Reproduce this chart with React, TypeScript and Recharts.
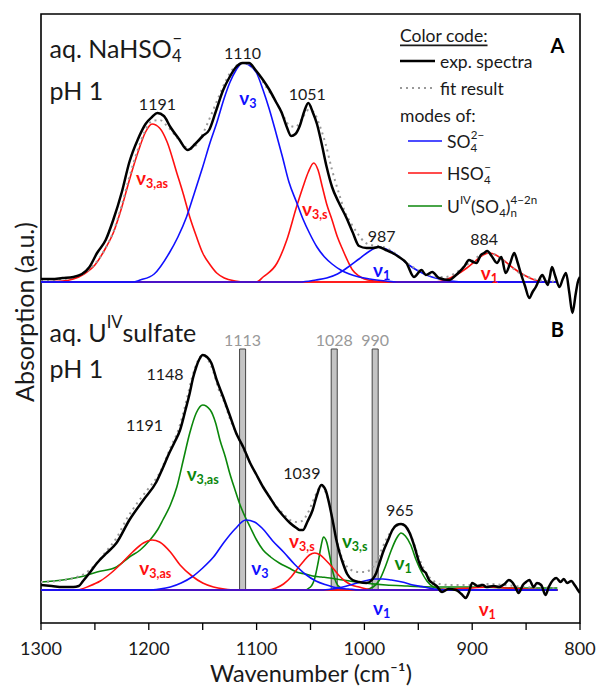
import React from 'react';
import { ComposedChart, Line, XAxis, YAxis, ReferenceArea, ReferenceDot } from 'recharts';

const FONT = 'Lato, "Noto Sans", sans-serif';
const BLUE = '#1010ff';
const RED = '#ff1010';
const GREEN = '#0b870b';
const INK = '#1a1a1a';

const xTicks = [1300, 1250, 1200, 1150, 1100, 1050, 1000, 950, 900, 850, 800];
const yDomain = [-33, 576];
const offsetA = 308; // lifts panel A above panel B

// ---- panel A: aq. NaHSO4-, pH 1  ([wavenumber, absorbance])
const expA = [
  [1300, 3], [1290, 3], [1280, 4], [1270, 5], [1262, 8], [1255, 15], [1248, 29], [1240, 42], [1233, 62],
  [1225, 90], [1218, 120], [1210, 143], [1203, 158], [1197, 165], [1192, 169], [1186, 166], [1180, 155],
  [1172, 143], [1164, 132], [1157, 138], [1150, 146], [1144, 152], [1138, 170], [1131, 192], [1125, 205],
  [1119, 215], [1113, 219], [1107, 219], [1101, 212], [1094, 202], [1088, 192], [1082, 180], [1077, 170],
  [1072, 155], [1068, 146], [1064, 148], [1060, 156], [1056, 170], [1052, 179], [1048, 170], [1044, 158],
  [1040, 140], [1035, 115], [1030, 95], [1024, 80], [1017, 65], [1011, 50], [1005, 36], [998, 34], [992, 34],
  [987, 35], [980, 32], [974, 29], [968, 25], [961, 19], [954, 5], [947, 12], [943, 7], [937, 10], [931, 4],
  [921, 2], [916, 6], [912, 10], [907, 16], [903, 22], [899, 20], [896, 19], [892, 27], [889, 29], [886, 31],
  [882, 26], [877, 19], [873, 25], [869, 9], [865, 18], [861, 29], [858, 20], [855, 9], [851, -4], [847, -16],
  [844, -10], [841, -5], [838, 2], [835, 7], [832, 1], [830, -3], [828, 5], [826, 15], [823, 6], [819, -5],
  [816, 3], [813, 9], [810, -10], [807, -31], [804, -12], [802, 0], [800, 5],
];
const fitA = [
  [1300, 2], [1280, 3], [1270, 5], [1260, 9], [1250, 18], [1240, 34], [1233, 50], [1225, 77], [1218, 105],
  [1210, 133], [1203, 152], [1197, 161], [1190, 162], [1183, 156], [1175, 146], [1168, 137], [1162, 133],
  [1156, 137], [1150, 148], [1143, 165], [1136, 183], [1130, 198], [1124, 210], [1118, 217], [1112, 219],
  [1106, 217], [1100, 210], [1094, 200], [1088, 190], [1082, 180], [1076, 168], [1070, 157], [1064, 155],
  [1058, 163], [1052, 172], [1047, 170], [1042, 158], [1036, 138], [1030, 112], [1024, 90], [1018, 70],
  [1012, 58], [1006, 48], [1000, 40], [994, 37], [987, 36], [980, 34], [972, 29], [964, 22], [955, 15],
  [947, 10], [940, 7], [932, 5], [925, 5], [917, 8], [908, 15], [900, 21], [892, 27], [886, 29], [880, 28],
  [872, 22], [864, 15], [856, 9], [848, 5], [840, 2], [830, 1], [821, 0],
];
const aHso4V3as = [
  [1300, 0], [1280, 1], [1270, 3], [1260, 8], [1250, 17], [1240, 34], [1233, 49], [1225, 75], [1218, 102],
  [1210, 130], [1203, 150], [1197, 158], [1190, 154], [1183, 140], [1174, 109], [1168, 88], [1162, 65],
  [1156, 46], [1150, 29], [1143, 17], [1137, 9], [1130, 4], [1120, 1], [1110, 0], [821, 0],
];
const aSo4V3 = [
  [1300, 0], [1215, 0], [1208, 2], [1195, 8], [1181, 29], [1173, 45], [1165, 65], [1158, 88], [1150, 115],
  [1143, 140], [1137, 159], [1130, 184], [1125, 199], [1119, 212], [1113, 219], [1107, 217], [1100, 209],
  [1094, 192], [1088, 172], [1082, 149], [1076, 125], [1070, 100], [1063, 80], [1057, 63], [1051, 49],
  [1044, 35], [1037, 25], [1030, 18], [1022, 12], [1014, 8], [1005, 5], [995, 3], [980, 1], [970, 0], [821, 0],
];
const aHso4V3s = [
  [1300, 0], [1100, 0], [1094, 5], [1081, 19], [1072, 42], [1063, 75], [1057, 95], [1052, 110], [1047, 119],
  [1043, 112], [1039, 95], [1035, 78], [1030, 62], [1025, 45], [1020, 32], [1015, 20], [1011, 12], [1005, 6],
  [1000, 3], [990, 1], [980, 0], [821, 0],
];
const aSo4V1 = [
  [1300, 0], [1060, 0], [1045, 2], [1035, 4], [1025, 8], [1015, 15], [1005, 23], [995, 31], [987, 35],
  [980, 33], [970, 27], [960, 18], [950, 11], [940, 6], [930, 3], [920, 1], [905, 0], [821, 0],
];
const aHso4V1 = [
  [1300, 0], [935, 0], [925, 2], [915, 7], [905, 14], [897, 21], [890, 27], [884, 29], [878, 27], [870, 21],
  [862, 14], [852, 7], [842, 2], [832, 0], [821, 0],
];

// ---- panel B: aq. U(IV) sulfate, pH 1
const expB = [
  [1300, 5], [1290, 4], [1280, 3], [1270, 3], [1265, 4], [1261, 9], [1255, 17], [1248, 27], [1240, 36],
  [1230, 47], [1218, 70], [1205, 90], [1193, 108], [1187, 122], [1181, 137], [1176, 148], [1171, 160],
  [1166, 180], [1162, 197], [1159, 212], [1156, 223], [1153, 231], [1150, 235], [1146, 233], [1142, 227],
  [1137, 210], [1131, 193], [1125, 175], [1119, 157], [1112, 142], [1106, 127], [1100, 115], [1094, 103],
  [1088, 93], [1082, 83], [1076, 75], [1069, 67], [1063, 62], [1060, 60], [1057, 60], [1053, 68], [1048, 80],
  [1044, 95], [1040, 105], [1036, 100], [1032, 83], [1029, 67], [1026, 50], [1023, 37], [1020, 27], [1016, 16],
  [1011, 10], [1005, 8], [998, 7], [993, 10], [989, 17], [986, 27], [983, 37], [978, 50], [974, 60], [970, 65],
  [966, 66], [962, 64], [958, 57], [954, 45], [949, 27], [946, 20], [943, 17], [940, 10], [937, 7], [933, 4],
  [928, -2], [922, 1], [915, 0], [910, -4], [906, -8], [903, -2], [900, 7], [895, 4], [890, 5], [887, 3],
  [880, 4], [875, 3], [870, 6], [866, 10], [863, 8], [860, 3], [857, -3], [853, 5], [850, 8], [847, 10],
  [843, 3], [840, 7], [836, 5], [832, -5], [829, 3], [825, 10], [822, 12], [818, 8], [815, 11], [812, 7],
  [808, 9], [805, 5], [802, 0], [800, -3],
];
const fitB = [
  [1300, 8], [1285, 9], [1270, 12], [1260, 16], [1250, 25], [1240, 38], [1230, 52], [1220, 72], [1210, 88],
  [1200, 102], [1190, 117], [1180, 142], [1172, 162], [1165, 190], [1160, 212], [1155, 228], [1150, 235],
  [1145, 230], [1140, 218], [1135, 200], [1130, 188], [1125, 172], [1119, 157], [1112, 140], [1106, 127],
  [1100, 115], [1094, 103], [1088, 93], [1082, 84], [1075, 76], [1069, 70], [1063, 68], [1058, 69], [1053, 76],
  [1048, 88], [1044, 98], [1040, 104], [1036, 98], [1032, 84], [1028, 62], [1024, 43], [1020, 30], [1015, 22],
  [1010, 19], [1005, 18], [1000, 18], [995, 20], [990, 26], [985, 38], [980, 50], [975, 59], [970, 64],
  [966, 66], [962, 63], [957, 55], [952, 40], [947, 26], [942, 16], [937, 10], [930, 6], [920, 5], [900, 5],
  [885, 6], [870, 5], [850, 3], [821, 2],
];
const bUV3as = [
  [1300, 8], [1280, 10], [1260, 14], [1248, 18], [1230, 23], [1218, 33], [1208, 40], [1199, 50], [1192, 60],
  [1187, 70], [1180, 85], [1174, 103], [1168, 130], [1162, 157], [1156, 177], [1150, 185], [1143, 180],
  [1138, 167], [1134, 150], [1129, 133], [1125, 117], [1120, 100], [1116, 87], [1111, 74], [1106, 63],
  [1100, 50], [1094, 40], [1087, 33], [1079, 27], [1070, 22], [1063, 18], [1055, 16], [1048, 14], [1040, 13],
  [1032, 12], [1020, 10], [1000, 7], [980, 5], [960, 4], [937, 3], [900, 3], [860, 2], [821, 2],
];
const bHso4V3as = [
  [1300, 0], [1267, 0], [1255, 4], [1245, 9], [1235, 17], [1225, 27], [1215, 38], [1205, 47], [1197, 50],
  [1190, 48], [1180, 38], [1171, 25], [1160, 14], [1150, 7], [1140, 3], [1130, 1], [1120, 0], [821, 0],
];
const bSo4V3 = [
  [1300, 0], [1200, 0], [1190, 1], [1180, 3], [1170, 7], [1160, 13], [1150, 22], [1140, 33], [1130, 48],
  [1120, 61], [1110, 70], [1102, 68], [1095, 62], [1085, 49], [1075, 38], [1065, 26], [1055, 16], [1045, 9],
  [1035, 5], [1025, 2], [1015, 1], [1005, 0], [821, 0],
];
const bHso4V3s = [
  [1300, 0], [1090, 0], [1082, 2], [1075, 6], [1068, 13], [1063, 20], [1057, 28], [1051, 35], [1046, 37],
  [1041, 35], [1036, 30], [1030, 23], [1024, 15], [1018, 9], [1012, 5], [1005, 3], [998, 1], [990, 0], [821, 0],
];
const bUV3s = [
  [1300, 0], [1056, 0], [1050, 3], [1046, 12], [1043, 27], [1040, 45], [1038, 53], [1035, 48], [1032, 33],
  [1029, 17], [1026, 7], [1022, 2], [1016, 0], [821, 0],
];
const bUV1 = [
  [1300, 0], [1000, 0], [992, 3], [986, 10], [980, 25], [975, 40], [970, 52], [966, 57], [962, 54], [957, 45],
  [952, 30], [947, 18], [942, 9], [936, 3], [928, 1], [920, 0], [821, 0],
];
const bSo4V1 = [
  [1300, 0], [1040, 0], [1030, 1], [1020, 3], [1010, 6], [1000, 9], [990, 11], [983, 11], [975, 10], [965, 8],
  [955, 5], [945, 3], [935, 1], [925, 0], [821, 0],
];
const bHso4V1 = [
  [1300, 0], [940, 0], [920, 1], [900, 2], [885, 3], [870, 2], [850, 1], [830, 0], [821, 0],
];

// reference band positions (cm-1) and their height
const bandPositions = [1113, 1028, 990];
const bandTop = 241;

type Part = string | { sub?: string; sup?: string };

function Rich({ x, y, parts, size, color, weight = 400, anchor = 'middle' }: any) {
  const small = size * 0.66;
  let shift = 0;
  const out: any[] = [];
  (parts as Part[]).forEach((p, i) => {
    if (typeof p === 'string') {
      out.push(<tspan key={i} dy={-shift} fontSize={size}>{p}</tspan>);
      shift = 0;
    } else {
      if (p.sub) {
        const target = size * 0.32;
        out.push(<tspan key={i + 'b'} dy={target - shift} fontSize={small}>{p.sub}</tspan>);
        shift = target;
      }
      if (p.sup) {
        const target = -size * 0.42;
        const back = p.sub ? -p.sub.length * small * 0.55 : 0;
        out.push(<tspan key={i + 'p'} dx={back} dy={target - shift} fontSize={small}>{p.sup}</tspan>);
        shift = target;
      }
    }
  });
  return (
    <text x={x} y={y} fill={color} fontWeight={weight} textAnchor={anchor} dominantBaseline="central"
      fontFamily={FONT} fontSize={size}>
      {out}
    </text>
  );
}

const nu = (s: string): Part[] => ['ν', { sub: s }];

// annotations: [wavenumber, height above panel baseline, text parts, colour, size, bold, anchor]
const notesA: any[] = [
  [1192, 179, ['1191'], INK, 16],
  [1113, 230, ['1110'], INK, 16],
  [1053, 189, ['1051'], INK, 16],
  [984, 47, ['987'], INK, 16],
  [889, 44, ['884'], INK, 16],
  [1197, 105, nu('3,as'), RED, 19, true],
  [1108, 185, nu('3'), BLUE, 19, true],
  [1046, 74, nu('3,s'), RED, 19, true],
  [984, 13, nu('1'), BLUE, 19, true],
  [884, 10, nu('1'), RED, 19, true],
  [1292, 234, ['aq. NaHSO', { sub: '4', sup: '−' }], INK, 25, false, 'start'],
  [1292, 192, ['pH 1'], INK, 25, false, 'start'],
  [821, 237, ['A'], '#000', 20, true],
];
const notesB: any[] = [
  [1292, 258, ['aq. U', { sup: 'IV' }, 'sulfate'], INK, 25, false, 'start'],
  [1292, 222, ['pH 1'], INK, 25, false, 'start'],
  [821, 261, ['B'], '#000', 20, true],
  [1185, 217, ['1148'], INK, 16],
  [1204, 166, ['1191'], INK, 16],
  [1058, 118, ['1039'], INK, 16],
  [967, 81, ['965'], INK, 16],
  [1150, 117, nu('3,as'), GREEN, 19, true],
  [1194, 23, nu('3,as'), RED, 19, true],
  [1097, 23, nu('3'), BLUE, 19, true],
  [1058, 50, nu('3,s'), RED, 19, true],
  [1009, 50, nu('3,s'), GREEN, 19, true],
  [964, 28, nu('1'), GREEN, 19, true],
  [984, -17, nu('1'), BLUE, 19, true],
  [886, -18, nu('1'), RED, 19, true],
];

const rows = (pts: number[][], off = 0) => pts.map(([w, a]) => ({ w, y: a + off }));

const components = [
  { pts: aHso4V3as, off: offsetA, color: RED },
  { pts: aHso4V3s, off: offsetA, color: RED },
  { pts: aHso4V1, off: offsetA, color: RED },
  { pts: aSo4V3, off: offsetA, color: BLUE },
  { pts: aSo4V1, off: offsetA, color: BLUE },
  { pts: bUV3as, off: 0, color: GREEN },
  { pts: bUV3s, off: 0, color: GREEN },
  { pts: bUV1, off: 0, color: GREEN },
  { pts: bHso4V3as, off: 0, color: RED },
  { pts: bHso4V3s, off: 0, color: RED },
  { pts: bHso4V1, off: 0, color: RED },
  { pts: bSo4V3, off: 0, color: BLUE },
  { pts: bSo4V1, off: 0, color: BLUE },
];

function Overlay() {
  const t = { fontFamily: FONT, fontSize: 17.5, fill: INK, dominantBaseline: 'central' } as any;
  return (
    <svg width={598} height={689} style={{ position: 'absolute', left: 0, top: 0, pointerEvents: 'none' }}>
      <text {...t} x={400} y={35} textDecoration="underline">Color code:</text>
      <line x1={400} x2={435} y1={61} y2={61} stroke="#000" strokeWidth={2.5} />
      <text {...t} x={440} y={61}>exp. spectra</text>
      <line x1={400} x2={435} y1={88} y2={88} stroke="#999" strokeWidth={2} strokeDasharray="2 4" />
      <text {...t} x={440} y={88}>fit result</text>
      <text {...t} x={400} y={115}>modes of:</text>
      <line x1={408} x2={442} y1={141} y2={141} stroke={BLUE} strokeWidth={1.6} />
      <Rich x={447} y={141} parts={['SO', { sub: '4', sup: '2−' }]} size={17.5} color={INK} anchor="start" />
      <line x1={408} x2={442} y1={173} y2={173} stroke={RED} strokeWidth={1.6} />
      <Rich x={447} y={173} parts={['HSO', { sub: '4', sup: '−' }]} size={17.5} color={INK} anchor="start" />
      <line x1={408} x2={442} y1={206} y2={206} stroke={GREEN} strokeWidth={1.6} />
      <Rich x={447} y={206} parts={['U', { sup: 'IV' }, '(SO', { sub: '4' }, ')', { sub: 'n', sup: '4−2n' }]}
        size={17.5} color={INK} anchor="start" />
      <text x={24} y={312} transform="rotate(-90 24 312)" textAnchor="middle" dominantBaseline="central"
        fontFamily={FONT} fontSize={25} fill={INK}>Absorption (a.u.)</text>
      <text x={311} y={673} textAnchor="middle" dominantBaseline="central" fontFamily={FONT} fontSize={23.5}
        fill={INK}>Wavenumber (cm⁻¹)</text>
    </svg>
  );
}

const noteDot = (n: any[], off: number, key: string) => (
  <ReferenceDot key={key} x={n[0]} y={n[1] + off} r={0} ifOverflow="visible"
    shape={(p: any) => (
      <Rich x={p.cx} y={p.cy} parts={n[2]} color={n[3]} size={n[4]} weight={n[5] ? 700 : 400}
        anchor={n[6] || 'middle'} />
    )} />
);

export default function App() {
  return (
    <div style={{ position: 'absolute', left: 0, top: 0, width: 598, height: 689, background: '#fff', fontFamily: FONT }}>
      <ComposedChart width={598} height={689} margin={{ top: 14, right: 18, bottom: 0, left: 41 }}>
        <XAxis dataKey="w" type="number" domain={[800, 1300]} reversed ticks={xTicks} allowDataOverflow
          height={66} axisLine={false} tickSize={7} tickMargin={12} interval={0}
          tickLine={{ stroke: '#000', strokeWidth: 1.3 }}
          tick={{ fill: INK, fontSize: 18, fontFamily: FONT }}
          tickFormatter={(v: number) => (v % 100 === 0 ? String(v) : '')} />
        <YAxis hide type="number" domain={yDomain} allowDataOverflow />
        {bandPositions.map((b) => (
          <ReferenceArea key={'band' + b} x1={b + 2.8} x2={b - 2.8} y1={0} y2={bandTop}
            fill="#c4c4c4" fillOpacity={1} stroke="#444" strokeWidth={1} />
        ))}
        {components.map((c, i) => (
          <Line key={'c' + i} data={rows(c.pts, c.off)} dataKey="y" type="monotone" stroke={c.color}
            strokeWidth={1.6} dot={false} activeDot={false} isAnimationActive={false} />
        ))}
        <Line data={rows(fitA, offsetA)} dataKey="y" type="monotone" stroke="#9a9a9a" strokeWidth={2}
          strokeDasharray="2 4" dot={false} activeDot={false} isAnimationActive={false} />
        <Line data={rows(fitB)} dataKey="y" type="monotone" stroke="#9a9a9a" strokeWidth={2}
          strokeDasharray="2 4" dot={false} activeDot={false} isAnimationActive={false} />
        <Line data={rows(expA, offsetA)} dataKey="y" type="monotone" stroke="#000" strokeWidth={2.5}
          dot={false} activeDot={false} isAnimationActive={false} />
        <Line data={rows(expB)} dataKey="y" type="monotone" stroke="#000" strokeWidth={2.5}
          dot={false} activeDot={false} isAnimationActive={false} />
        <ReferenceArea x1={1300} x2={800} y1={yDomain[0]} y2={yDomain[1]} fill="none" stroke="#000"
          strokeWidth={1.6} ifOverflow="visible" />
        {bandPositions.map((b) => noteDot([b, bandTop + 10, [String(b)], '#999', 16], 0, 'bl' + b))}
        {notesA.map((n, i) => noteDot(n, offsetA, 'a' + i))}
        {notesB.map((n, i) => noteDot(n, 0, 'b' + i))}
      </ComposedChart>
      <Overlay />
    </div>
  );
}
